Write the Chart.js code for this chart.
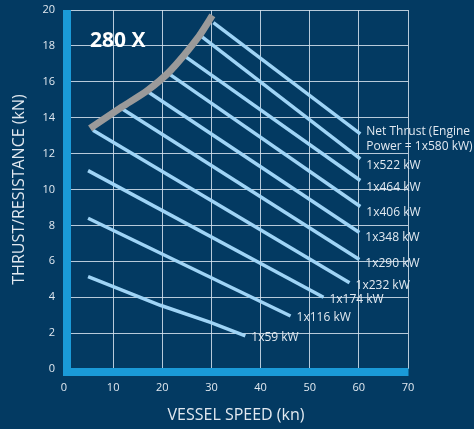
<!DOCTYPE html>
<html>
<head>
<meta charset="utf-8">
<script src="https://cdn.jsdelivr.net/npm/chart.js@4.4.1/dist/chart.umd.min.js"></script>
<style>
  html, body { margin: 0; padding: 0; background: #033a62; }
  #wrap { width: 474px; height: 429px; }
</style>
</head>
<body>
<div id="wrap"><canvas id="grafico"></canvas></div>
<script>
// Curva de resistencia (cinza)
const resistX = [5.3, 11.8, 16.9, 21.6, 27.1, 30.2];
const resistY = [13.4, 14.6, 15.5, 16.6, 18.4, 19.7];

// Curvas de empuxo por potencia (inicio/fim)
const potencias = ['1x580 kW', '1x522 kW', '1x464 kW', '1x406 kW', '1x348 kW', '1x290 kW', '1x232 kW', '1x174 kW', '1x116 kW', '1x59 kW'];
const empuxoX = [
    [30.4, 60.3],
    [28.1, 60.3],
    [24.7, 60.3],
    [21.6, 60.3],
    [17.3, 60.1],
    [11.8, 60.1],
    [5.9, 58.1],
    [4.9, 52.8],
    [4.9, 46.1],
    [4.9, 6.7, 19.6, 29.8, 36.9]
];
const empuxoY = [
    [19.3, 13.1],
    [18.5, 11.7],
    [17.4, 10.5],
    [16.4, 9.05],
    [15.4, 7.6],
    [14.5, 6.1],
    [13.3, 4.8],
    [11.05, 4.0],
    [8.4, 2.95],
    [5.15, 4.95, 3.55, 2.6, 1.85]
];
const rotulos = [
    ['Net Thrust (Engine', 'Power = 1x580 kW)'],
    ['1x522 kW'], ['1x464 kW'], ['1x406 kW'], ['1x348 kW'], ['1x290 kW'],
    ['1x232 kW'], ['1x174 kW'], ['1x116 kW'], ['1x59 kW']
];
const rotuloDy = [-2, 7, 7, 6, 5, 4, 3, 2, 2, 2];

const xTicks = [0, 10, 20, 30, 40, 50, 60, 70];
const yTicks = [0, 2, 4, 6, 8, 10, 12, 14, 16, 18, 20];

const FONTE = "'Open Sans', sans-serif";
const corTexto = '#e2e9f0';

function pares(xs, ys) {
    return xs.map((x, i) => ({ x: x, y: ys[i] }));
}

const datasets = [{
    label: 'Resistance',
    data: pares(resistX, resistY),
    borderColor: '#9a9a9a',
    borderWidth: 7,
    tension: 0.25,
    pointRadius: 0
}];
potencias.forEach((p, i) => {
    datasets.push({
        label: p,
        data: pares(empuxoX[i], empuxoY[i]),
        borderColor: '#9fd4f6',
        borderWidth: 3.5,
        tension: 0,
        pointRadius: 0
    });
});

// Barra azul dos eixos + rotulos das curvas
const eixosPlugin = {
    id: 'eixos',
    beforeDatasetsDraw(chart) {
        const { ctx, chartArea } = chart;
        ctx.save();
        ctx.fillStyle = '#1a9ad8';
        ctx.fillRect(chartArea.left - 1, chartArea.top, 8, chartArea.bottom - chartArea.top + 7);
        ctx.fillRect(chartArea.left - 1, chartArea.bottom - 1, chartArea.right - chartArea.left + 1.5, 8);
        ctx.restore();
    },
    afterDatasetsDraw(chart) {
        const { ctx } = chart;
        ctx.save();
        ctx.font = "12px " + FONTE;
        ctx.fillStyle = corTexto;
        ctx.textBaseline = 'middle';
        rotulos.forEach((linhas, i) => {
            const meta = chart.getDatasetMeta(i + 1);
            const pt = meta.data[meta.data.length - 1];
            linhas.forEach((t, j) => {
                ctx.fillText(t, pt.x + 6, pt.y + rotuloDy[i] + j * 15);
            });
        });
        ctx.font = "bold 21px " + FONTE;
        ctx.fillStyle = '#ffffff';
        ctx.fillText('280 X', chart.chartArea.left + 26, chart.chartArea.top + 31);
        ctx.restore();
    }
};

new Chart(document.getElementById('grafico').getContext('2d'), {
    type: 'scatter',
    data: { datasets: datasets },
    options: {
        responsive: true,
        maintainAspectRatio: false,
        animation: false,
        showLine: true,
        layout: { padding: { top: 10, right: 66, left: 0, bottom: 0 } },
        plugins: {
            legend: { display: false },
            tooltip: { enabled: false }
        },
        scales: {
            x: {
                type: 'linear',
                min: 0, max: 70,
                afterBuildTicks: s => { s.ticks = xTicks.map(v => ({ value: v })); },
                afterFit: s => { s.height = 60; s.paddingLeft = 0; s.paddingRight = 0; },
                grid: { color: 'rgba(215,228,240,0.85)', lineWidth: 1, drawTicks: false },
                border: { display: false },
                ticks: { color: corTexto, font: { family: FONTE, size: 11 }, padding: 12 },
                title: {
                    display: true,
                    text: 'VESSEL SPEED (kn)',
                    color: corTexto,
                    font: { family: FONTE, size: 16 },
                    padding: { top: 20 }
                }
            },
            y: {
                type: 'linear',
                min: 0, max: 20,
                afterBuildTicks: s => { s.ticks = yTicks.map(v => ({ value: v })); },
                afterFit: s => { s.width = 64; s.paddingTop = 0; s.paddingBottom = 0; },
                grid: { color: 'rgba(215,228,240,0.85)', lineWidth: 1, drawTicks: false },
                border: { display: false },
                ticks: { color: corTexto, font: { family: FONTE, size: 11 }, padding: 9 },
                title: {
                    display: true,
                    text: 'THRUST/RESISTANCE (kN)',
                    color: corTexto,
                    font: { family: FONTE, size: 16 },
                    padding: { top: 10, bottom: 0 }
                }
            }
        }
    },
    plugins: [eixosPlugin]
});
</script>
</body>
</html>
